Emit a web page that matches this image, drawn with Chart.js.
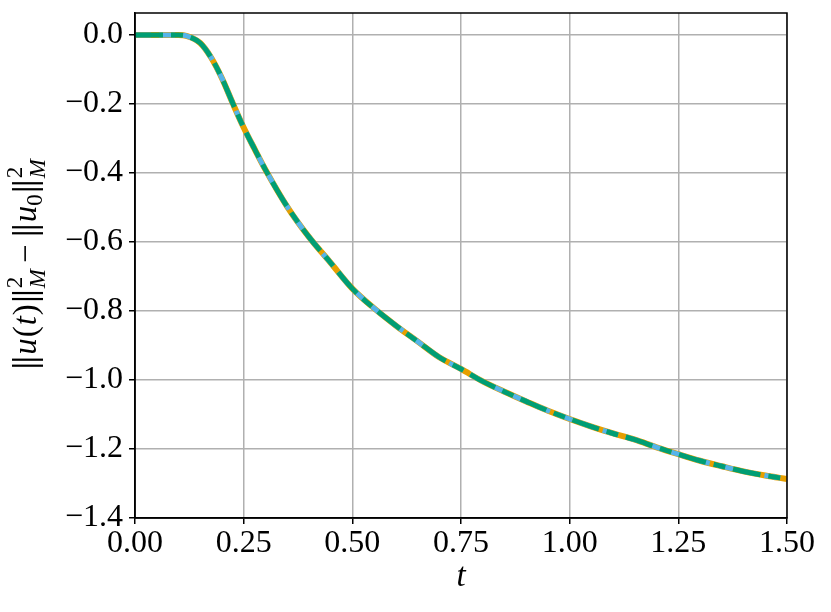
<!DOCTYPE html>
<html>
<head>
<meta charset="utf-8">
<script src="https://cdn.jsdelivr.net/npm/chart.js@4/dist/chart.umd.min.js"></script>
<style>
  html, body { margin: 0; padding: 0; background: #fff; }
  #wrap { width: 831px; height: 612px; }
</style>
</head>
<body>
<div id="wrap"><canvas id="energy"></canvas></div>
<script>
// time samples and energy difference
var tValues = [0, 0.05, 0.10, 0.12, 0.15, 0.175, 0.20, 0.225, 0.25, 0.275, 0.30, 0.35, 0.40, 0.45, 0.50,
	0.55, 0.60, 0.65, 0.70, 0.75, 0.80, 0.85, 0.90, 0.95, 1.00, 1.05, 1.10, 1.15, 1.20, 1.25,
	1.30, 1.35, 1.40, 1.45, 1.50];
var energyA = [0, 0, 0, -0.003, -0.023, -0.065, -0.125, -0.198, -0.268, -0.33, -0.39, -0.497, -0.585, -0.66, -0.735,
	-0.792, -0.842, -0.888, -0.934, -0.968, -1.004, -1.034, -1.062, -1.089, -1.113, -1.135, -1.155, -1.173, -1.195, -1.215,
	-1.234, -1.25, -1.265, -1.277, -1.287];
var energyB = energyA.slice();
var energyC = energyA.slice();
var xTicks = [0, 0.25, 0.5, 0.75, 1.0, 1.25, 1.5];
var yTicks = [0, -0.2, -0.4, -0.6, -0.8, -1.0, -1.2, -1.4];

var serif = "'Liberation Serif', 'DejaVu Serif', serif";

function toPoints(ys) {
	var pts = [];
	for (var i = 0; i < tValues.length; i++) {
		pts.push({ x: tValues[i], y: ys[i] });
	}
	return pts;
}

function minus(s) {
	return s.replace('-', '\u2212');
}

// axis labels drawn by hand (sub/superscripts)
var axisLabels = {
	id: 'axisLabels',
	afterDraw: function (chart) {
		var ctx = chart.ctx;
		ctx.save();
		ctx.fillStyle = '#000';
		// x label
		ctx.font = 'italic 33px ' + serif;
		ctx.textAlign = 'center';
		ctx.textBaseline = 'alphabetic';
		ctx.fillText('t', (chart.chartArea.left + chart.chartArea.right) / 2, 586);

		// y label, pieces laid along the rotated baseline
		var big = '33px ' + serif, it = 'italic 33px ' + serif, sm = '23px ' + serif;
		var parts = [
			{ bars: true },
			{ t: 'u', f: it, dy: 0, gap: 1 },
			{ t: '(', f: big, dy: 0, gap: 1 },
			{ t: 't', f: it, dy: 0, gap: 1 },
			{ t: ')', f: big, dy: 0, gap: 2 },
			{ bars: true },
			{ t: '2', f: sm, dy: -14, sub: 'M', gap: 6 },
			{ t: '\u2212', f: big, dy: 0, gap: 8 },
			{ bars: true },
			{ t: 'u', f: it, dy: 0, gap: 0 },
			{ t: '0', f: sm, dy: 6, gap: 2 },
			{ bars: true },
			{ t: '2', f: sm, dy: -14, sub: 'M', gap: 0 }
		];
		var total = 0;
		parts.forEach(function (p) {
			if (p.bars) { p.w = 14; total += p.w; return; }
			ctx.font = p.f;
			p.w = ctx.measureText(p.t).width;
			if (p.sub) {
				ctx.font = 'italic 23px ' + serif;
				p.w = Math.max(p.w, ctx.measureText(p.sub).width);
			}
			p.w += p.gap;
			total += p.w;
		});
		ctx.translate(36, 264);
		ctx.rotate(-Math.PI / 2);
		ctx.textAlign = 'left';
		var x = -total / 2;
		parts.forEach(function (p) {
			if (p.bars) {
				ctx.fillRect(x + 2, -24, 2.2, 31);
				ctx.fillRect(x + 8, -24, 2.2, 31);
				x += p.w;
				return;
			}
			ctx.font = p.f;
			ctx.fillText(p.t, x, p.dy);
			if (p.sub) {
				ctx.font = 'italic 23px ' + serif;
				ctx.fillText(p.sub, x, 9);
			}
			x += p.w;
		});
		ctx.restore();
	}
};

// full frame round the plot area
var frame = {
	id: 'frame',
	afterDatasetsDraw: function (chart) {
		var a = chart.chartArea, ctx = chart.ctx;
		ctx.save();
		ctx.strokeStyle = '#000';
		ctx.lineWidth = 1.5;
		ctx.strokeRect(a.left, a.top, a.right - a.left, a.bottom - a.top);
		ctx.restore();
	}
};

const data = {
	datasets: [
		{
			label: 'a',
			data: toPoints(energyA),
			borderColor: '#E69F00',
			borderWidth: 6,
			pointRadius: 0,
			order: 3,
			cubicInterpolationMode: 'monotone'
		},
		{
			label: 'b',
			data: toPoints(energyB),
			borderColor: '#56B4E9',
			borderWidth: 5,
			borderDash: [16, 8],
			pointRadius: 0,
			order: 2,
			cubicInterpolationMode: 'monotone'
		},
		{
			label: 'c',
			data: toPoints(energyC),
			borderColor: '#009E73',
			borderWidth: 5,
			borderDash: [28, 8, 12, 8],
			pointRadius: 0,
			order: 1,
			cubicInterpolationMode: 'monotone'
		}
	]
};

const config = {
	type: 'line',
	data: data,
	options: {
		responsive: true,
		maintainAspectRatio: false,
		animation: false,
		layout: { padding: { left: 0, right: 44, top: 13, bottom: 0 } },
		plugins: {
			legend: { display: false },
			tooltip: { enabled: false }
		},
		scales: {
			x: {
				type: 'linear',
				min: 0,
				max: 1.5,
				afterBuildTicks: function (scale) {
					scale.ticks = xTicks.map(function (v) { return { value: v }; });
				},
				afterFit: function (scale) {
					scale.height = 94;
					scale.paddingLeft = 0;
					scale.paddingRight = 0;
				},
				ticks: {
					color: '#000',
					font: { family: serif, size: 32 },
					padding: 0,
					maxRotation: 0,
					autoSkip: false,
					callback: function (v) { return v.toFixed(2); }
				},
				grid: { color: '#b0b0b0', lineWidth: 1.5, tickColor: '#000', tickLength: 6 },
				border: { color: '#000', width: 1.5 }
			},
			y: {
				min: -1.4,
				max: 0.064,
				afterBuildTicks: function (scale) {
					scale.ticks = yTicks.map(function (v) { return { value: v }; });
				},
				afterFit: function (scale) {
					scale.width = 135;
					scale.paddingTop = 0;
					scale.paddingBottom = 0;
				},
				ticks: {
					color: '#000',
					font: { family: serif, size: 32 },
					padding: 6,
					autoSkip: false,
					callback: function (v) { return minus(v.toFixed(1)); }
				},
				grid: { color: '#b0b0b0', lineWidth: 1.5, tickColor: '#000', tickLength: 6 },
				border: { color: '#000', width: 1.5 }
			}
		}
	},
	plugins: [axisLabels, frame]
};

new Chart(document.getElementById('energy'), config);
</script>
</body>
</html>
